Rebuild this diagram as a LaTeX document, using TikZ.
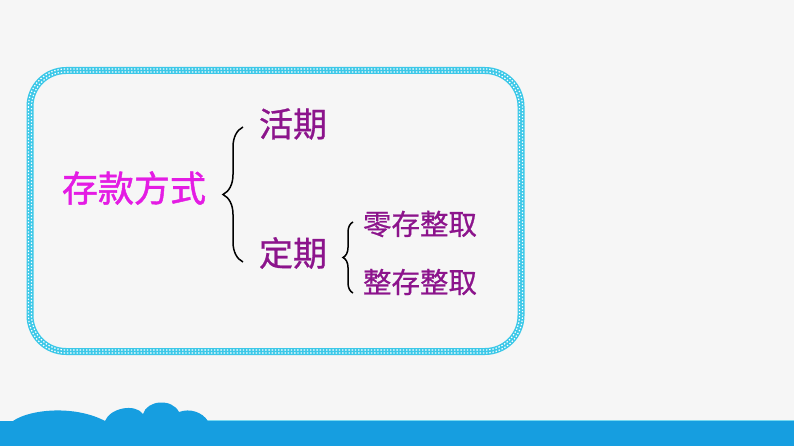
\documentclass[tikz,border=0pt]{standalone}
\usepackage{fontspec}
\newfontfamily\cjk{Noto Sans CJK SC}
\newfontfamily\cjkb[FakeBold=1.3]{Noto Sans CJK SC}
\newfontfamily\cjkm[FakeBold=0.8]{Noto Sans CJK SC}
\usetikzlibrary{decorations.pathreplacing}
\definecolor{bgc}{RGB}{246,246,246}
\definecolor{boxc}{RGB}{60,200,232}
\definecolor{bandc}{RGB}{22,158,224}
\definecolor{magc}{RGB}{228,28,228}
\definecolor{purc}{RGB}{140,20,140}
\tikzset{
  maintxt/.style={font=\cjkb\fontsize{36}{36}\selectfont, text=magc, inner sep=0pt},
  subtxt/.style={font=\cjkm\fontsize{34}{34}\selectfont, text=purc, inner sep=0pt},
  leaftxt/.style={font=\cjkm\fontsize{28.5}{28.5}\selectfont, text=purc, inner sep=0pt},
  bracestyle/.style={decorate, decoration={brace, amplitude=#1}, line width=1.5pt, black},
}
\begin{document}
\begin{tikzpicture}[x=1pt,y=-1pt]
\useasboundingbox (0,0) rectangle (794,446);
\fill[bgc] (0,0) rectangle (794,446);
% checkered rounded frame
\draw[boxc, line width=7pt, rounded corners=36pt] (30,70.5) rectangle (521,351.5);
\draw[white, line width=1.2pt, dash pattern=on 1.4pt off 1.8pt, rounded corners=37.5pt] (28.5,69) rectangle (522.5,353);
\draw[white, line width=1.2pt, dash pattern=on 1.4pt off 1.8pt, dash phase=1.6pt, rounded corners=34.5pt] (31.5,72) rectangle (519.5,350);
% bottom band with clouds
\fill[bandc] (0,421) -- (13,421)
  .. controls (30,409) and (75,405) .. (105,421)
  .. controls (110,408) and (135,403) .. (143,414)
  .. controls (147,400) and (172,398) .. (179,412)
  .. controls (190,408) and (202,412) .. (208,421)
  -- (794,421) -- (794,446) -- (0,446) -- cycle;
\draw[boxc!70, line width=0.8pt] (208,420.5) -- (794,420.5);
% texts
\node[maintxt] (root) at (134,188) {存款方式};
\node[subtxt] (huo) at (293,124) {活期};
\node[subtxt] (ding) at (293,253) {定期};
\node[leaftxt] (ling) at (420,224) {零存整取};
\node[leaftxt] (zheng) at (420,282) {整存整取};
% braces
\coordinate (b1top) at (243,127);
\coordinate (b1bot) at (243,262);
\coordinate (b2top) at (353,222);
\coordinate (b2bot) at (353,293);
\draw[bracestyle=20pt] (b1bot) -- (b1top);
\draw[bracestyle=10pt] (b2bot) -- (b2top);
\end{tikzpicture}
\end{document}
